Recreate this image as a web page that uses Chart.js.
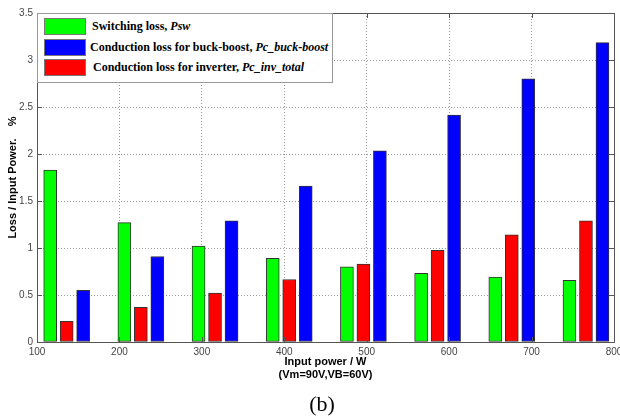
<!DOCTYPE html>
<html>
<head>
<meta charset="utf-8">
<script src="https://cdn.jsdelivr.net/npm/chart.js@4/dist/chart.umd.min.js"></script>
<style>
  html, body { margin: 0; padding: 0; background: #fff; }
  #wrap { position: relative; width: 620px; height: 419px; }
  #lossChart { position: absolute; left: 0; top: 0; }
  .legend {
    position: absolute; left: 37px; top: 13px; width: 296px; height: 70px;
    background: #fff; border: 1px solid #999; box-sizing: border-box;
    font-family: "Liberation Serif", "Times New Roman", serif; font-weight: bold; font-size: 12px; color: #000;
  }
  .legend .row { position: absolute; left: 6px; height: 16px; line-height: 16px; white-space: nowrap; }
  .legend .sw { display: inline-block; width: 40px; height: 15px; border: 1px solid #777; vertical-align: top; margin-right: 6px; }
  .legend i { font-style: italic; }
  .caption {
    position: absolute; left: 0; width: 644px; top: 391px; text-align: center;
    font-family: "Liberation Serif", "Times New Roman", serif; font-size: 22px; color: #000;
  }
</style>
</head>
<body>
<div id="wrap">
  <canvas id="lossChart" width="620" height="419"></canvas>
  <div class="legend">
    <div class="row" style="top:4px"><span class="sw" style="background:#00ff00"></span>Switching loss, <i>Psw</i></div>
    <div class="row" style="top:25px"><span class="sw" style="background:#0000ff;margin-right:4px"></span>Conduction loss for buck-boost, <i>Pc_buck-boost</i></div>
    <div class="row" style="top:45px"><span class="sw" style="background:#ff0000;margin-right:7px"></span>Conduction loss for inverter, <i>Pc_inv_total</i></div>
  </div>
  <div class="caption">(b)</div>
</div>
<script>
// group centres on the power axis (W)
const groupX = [136, 226, 316, 406, 496, 586, 676, 766];
// losses as % of input power
const switchingLoss = [1.83, 1.27, 1.02, 0.89, 0.80, 0.73, 0.69, 0.655];
const inverterLoss = [0.22, 0.37, 0.52, 0.665, 0.83, 0.975, 1.14, 1.29];
const buckBoostLoss = [0.55, 0.91, 1.29, 1.66, 2.035, 2.415, 2.80, 3.185];

const xTitle = ['Input power / W', '(Vm=90V,VB=60V)'];
const yTitle = 'Loss / Input Power.    %';

const shift = 20; // spacing between bars inside a group, in W

function points(values, dx) {
  return values.map((v, i) => ({ x: groupX[i] + dx, y: v }));
}

function barSet(label, values, dx, color) {
  return {
    label: label,
    data: points(values, dx),
    backgroundColor: color,
    borderColor: '#333',
    borderWidth: 1,
    borderSkipped: false,
    barThickness: 13,
    grouped: false
  };
}

// box around the plot with inward tick marks, like a matlab axes
const axesBox = {
  id: 'axesBox',
  afterDatasetsDraw(chart) {
    const ctx = chart.ctx;
    const a = chart.chartArea;
    const xs = chart.scales.x, ys = chart.scales.y;
    ctx.save();
    ctx.strokeStyle = '#555';
    ctx.lineWidth = 1;
    ctx.beginPath();
    ctx.moveTo(a.left + 0.5, a.bottom + 0.5);
    ctx.lineTo(a.left + 0.5, a.top + 0.5);
    ctx.lineTo(a.right + 0.5, a.top + 0.5);
    ctx.lineTo(a.right + 0.5, a.bottom + 0.5);
    ctx.lineTo(a.left + 0.5, a.bottom + 0.5);
    const len = 5;
    ys.ticks.forEach(t => {
      const y = Math.round(ys.getPixelForValue(t.value)) + 0.5;
      ctx.moveTo(a.left, y); ctx.lineTo(a.left + len, y);
      ctx.moveTo(a.right, y); ctx.lineTo(a.right - len, y);
    });
    xs.ticks.forEach(t => {
      const x = Math.round(xs.getPixelForValue(t.value)) + 0.5;
      ctx.moveTo(x, a.top); ctx.lineTo(x, a.top + len);
      ctx.moveTo(x, a.bottom); ctx.lineTo(x, a.bottom - len);
    });
    ctx.stroke();
    ctx.restore();
  }
};

const tickFont = { family: 'Liberation Sans, Arial, sans-serif', size: 10 };
const titleFont = { family: 'Liberation Sans, Arial, sans-serif', size: 11, weight: 'bold' };

new Chart(document.getElementById('lossChart'), {
  type: 'bar',
  data: {
    datasets: [
      barSet('Switching loss, Psw', switchingLoss, -shift, '#00ff00'),
      barSet('Conduction loss for inverter, Pc_inv_total', inverterLoss, 0, '#ff0000'),
      barSet('Conduction loss for buck-boost, Pc_buck-boost', buckBoostLoss, shift, '#0000ff')
    ]
  },
  options: {
    responsive: false,
    animation: false,
    layout: { padding: { top: 13, right: 6, left: 0, bottom: 0 } },
    plugins: {
      legend: { display: false },
      tooltip: { enabled: false }
    },
    scales: {
      x: {
        type: 'linear',
        min: 100,
        max: 800,
        offset: false,
        grid: { offset: false, color: '#999', drawTicks: false },
        border: { display: false, dash: [1, 2] },
        ticks: { stepSize: 100, padding: 4, color: '#444', font: tickFont, maxRotation: 0 },
        title: { display: true, text: xTitle, color: '#000', font: titleFont, padding: { top: 0, bottom: 37 } },
        afterFit(scale) {
          scale.height = 77;
          scale.paddingLeft = 0;
          scale.paddingRight = 0;
        }
      },
      y: {
        min: 0,
        max: 3.5,
        grid: { color: '#999', drawTicks: false },
        border: { display: false, dash: [1, 2] },
        ticks: { stepSize: 0.5, padding: 4, color: '#444', font: tickFont, callback: v => String(v) },
        title: { display: true, text: yTitle, color: '#000', font: titleFont, padding: { top: 6, bottom: 0 } },
        afterFit(scale) {
          scale.width = 37;
          scale.paddingTop = 0;
          scale.paddingBottom = 0;
        }
      }
    }
  },
  plugins: [axesBox]
});
</script>
</body>
</html>
